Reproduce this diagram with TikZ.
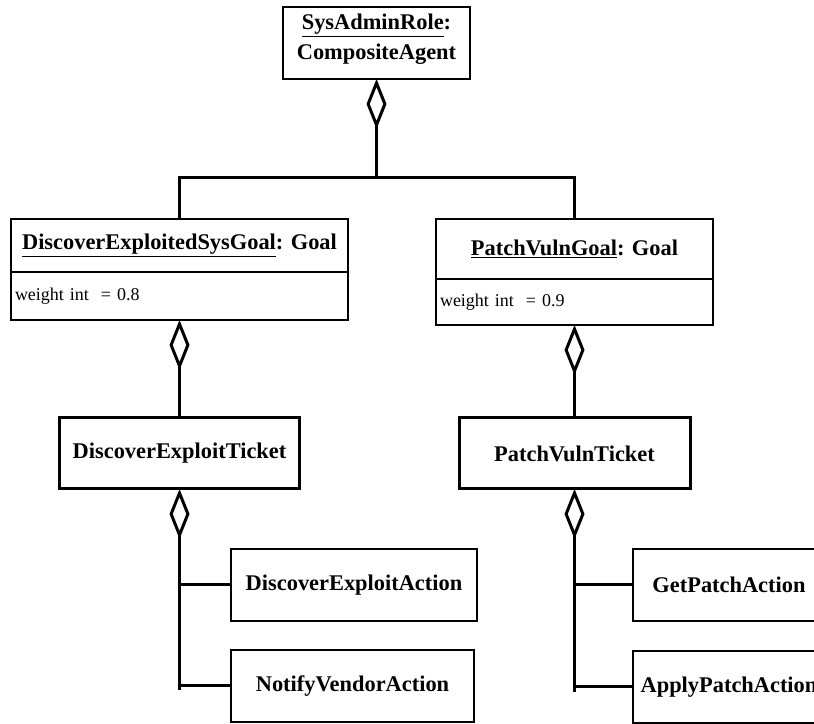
\documentclass[tikz,border=0pt]{standalone}
\usepackage{fontspec}
\setmainfont{Liberation Serif}
\usetikzlibrary{arrows.meta,positioning}

\begin{document}
\begin{tikzpicture}[x=1pt,y=1pt,
  classBox/.style={draw=drawColor,line width=1.5pt,inner sep=0pt,outer sep=0pt,align=center,font=\fontsize{22.4}{30}\selectfont\bfseries},
  ticketBox/.style={classBox,line width=3pt},
  attrBox/.style={draw=drawColor,line width=1.5pt,inner xsep=4pt,inner ysep=0pt,outer sep=0pt,align=left,font=\fontsize{18}{22}\selectfont},
  linkLine/.style={draw=drawColor,line width=3pt},
  aggrLine/.style={linkLine,arrows={Diamond[open,length=50pt,width=20pt]-}}]
\definecolor{fillColor}{RGB}{255,255,255}
\definecolor{drawColor}{RGB}{0,0,0}
\path[use as bounding box,fill=fillColor] (0,0) rectangle (814,723);
\begin{scope}
\path[clip] (0,0) rectangle (814,723);

% role
\node[classBox,minimum width=187pt,minimum height=72pt,text depth=12pt] (sysAdmin) at (376.5,680) {\underline{SysAdminRole}:\\CompositeAgent};

% goals
\node[classBox,minimum width=337pt,minimum height=53pt] (exploitGoal) at (179.5,477.5) {\underline{DiscoverExploitedSysGoal}: Goal};
\node[attrBox,text width=329pt,minimum height=48pt,below=0pt of exploitGoal] (exploitWeight) {weight int \ = 0.8};

\node[classBox,minimum width=277pt,minimum height=60pt] (patchGoal) at (574.5,474) {\underline{PatchVulnGoal}: Goal};
\node[attrBox,text width=269pt,minimum height=46pt,below=0pt of patchGoal] (patchWeight) {weight int \ = 0.9};

\path[draw=drawColor,line width=2.5pt] (exploitWeight.north west) -- (exploitWeight.north east);
\path[draw=drawColor,line width=2.5pt] (patchWeight.north west) -- (patchWeight.north east);

% tickets
\node[ticketBox,minimum width=240pt,minimum height=71pt] (exploitTicket) at (179.5,269.5) {DiscoverExploitTicket};
\node[ticketBox,minimum width=231pt,minimum height=71pt] (patchTicket) at (574.5,269.5) {PatchVulnTicket};

% actions
\node[classBox,minimum width=246pt,minimum height=72pt] (discoverAction) at (354,138) {DiscoverExploitAction};
\node[classBox,minimum width=243pt,minimum height=72pt] (notifyAction) at (352.5,37) {NotifyVendorAction};
\node[classBox,minimum width=192pt,minimum height=72pt] (getPatchAction) at (729,138) {GetPatchAction};
\node[classBox,minimum width=192pt,minimum height=72pt] (applyPatchAction) at (729,36) {ApplyPatchAction};

% aggregations
\coordinate (busJoin) at (376.5,545);
\coordinate (exploitTrunk) at (179.5,33);
\coordinate (patchTrunk) at (574.5,31);

\path[aggrLine] (sysAdmin.south) -- (busJoin);
\path[linkLine] (exploitGoal.north) |- (busJoin) -| (patchGoal.north);

\path[aggrLine] (exploitWeight.south) -- (exploitTicket.north);
\path[aggrLine] (patchWeight.south) -- (patchTicket.north);

\path[aggrLine] (exploitTicket.south) -- (exploitTrunk);
\path[linkLine] (discoverAction.west) -- (discoverAction.west -| exploitTrunk);
\path[linkLine] (notifyAction.west) -- (notifyAction.west -| exploitTrunk);

\path[aggrLine] (patchTicket.south) -- (patchTrunk);
\path[linkLine] (getPatchAction.west) -- (getPatchAction.west -| patchTrunk);
\path[linkLine] (applyPatchAction.west) -- (applyPatchAction.west -| patchTrunk);
\end{scope}
\end{tikzpicture}
\end{document}
